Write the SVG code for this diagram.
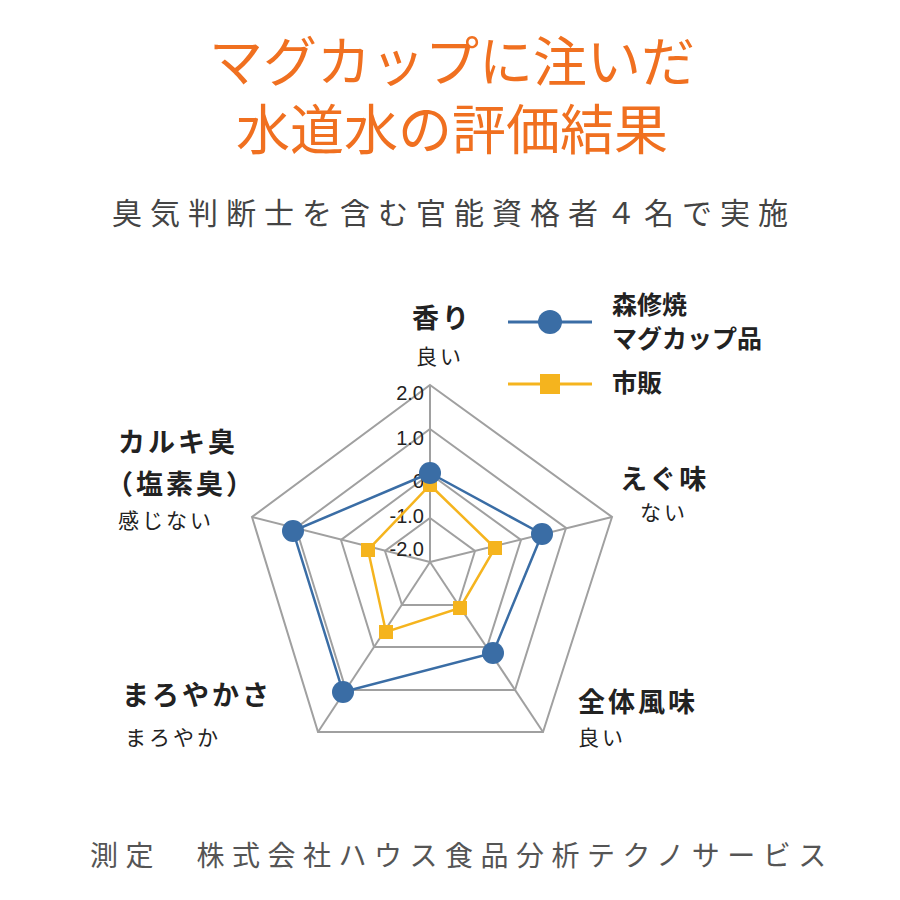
<svg xmlns="http://www.w3.org/2000/svg" width="900" height="900" viewBox="0 0 900 900">
<style>
.t{font-family:"Noto Sans CJK JP","Noto Sans",sans-serif}
.ring{fill:none;stroke:#a0a0a0;stroke-width:2}
.lab{font-family:"Noto Sans CJK JP",sans-serif;font-weight:bold;font-size:27px;letter-spacing:3px;fill:#222}
.leg{font-family:"Noto Sans CJK JP",sans-serif;font-weight:bold;font-size:25px;fill:#222}
.sub{font-family:"Noto Sans CJK JP",sans-serif;font-size:21px;letter-spacing:3px;fill:#222}
.num{font-family:"Liberation Sans",sans-serif;font-size:20px;fill:#222;text-anchor:end}
</style>
<rect width="900" height="900" fill="#fff"/>
<text class="t" x="452" y="82" font-size="54" fill="#f07020" text-anchor="middle">マグカップに注いだ</text>
<text class="t" x="452" y="150" font-size="54" fill="#f07020" text-anchor="middle">水道水の評価結果</text>
<text class="t" x="112" y="224" font-size="30" letter-spacing="8" fill="#444">臭気判断士を含む官能資格者４名で実施</text>
<g id="grid">
<polygon class="ring" points="430,385 612,517 543,732 318,732 252,517"/>
<polygon class="ring" points="430,429 566,528 515,690 346,690 296,528"/>
<polygon class="ring" points="430,474 521,540 487,647 374,647 341,540"/>
<polygon class="ring" points="430,518 475,551 458,605 402,605 385,551"/>
<g stroke="#a0a0a0" stroke-width="2"><line x1="430" y1="562" x2="430" y2="385"/><line x1="430" y1="562" x2="612" y2="517"/><line x1="430" y1="562" x2="543" y2="732"/><line x1="430" y1="562" x2="318" y2="732"/><line x1="430" y1="562" x2="252" y2="517"/></g>
</g>
<g id="scale">
<text class="num" x="424" y="400">2.0</text><text class="num" x="424" y="445">1.0</text><text class="num" x="424" y="488">0</text><text class="num" x="424" y="523">-1.0</text><text class="num" x="424" y="556">-2.0</text>
</g>
<g id="connectors">
<polygon points="430,485 495,548 460,608 386,632 368,550" fill="none" stroke="#f5b41e" stroke-width="2.5"/>
<polygon points="430,473 542,534 493,653 343,692 293,531" fill="none" stroke="#3a6da5" stroke-width="2.5"/>
<line x1="508" y1="322" x2="592" y2="322" stroke="#3a6da5" stroke-width="3"/>
<line x1="508" y1="384" x2="592" y2="384" stroke="#f5b41e" stroke-width="3"/>
</g>
<g id="series-shi" fill="#f5b41e">
<rect x="423" y="478" width="14" height="14"/><rect x="488" y="541" width="14" height="14"/><rect x="453" y="601" width="14" height="14"/><rect x="379" y="625" width="14" height="14"/><rect x="361" y="543" width="14" height="14"/>
<rect x="540" y="374" width="20" height="20"/>
</g>
<g id="series-mori" fill="#3a6da5">
<circle cx="430" cy="473" r="11"/><circle cx="542" cy="534" r="11"/><circle cx="493" cy="653" r="11"/><circle cx="343" cy="692" r="11"/><circle cx="293" cy="531" r="11"/>
<circle cx="550" cy="322" r="12"/>
</g>
<g id="legend">
<text class="leg" x="612" y="314">森修焼</text><text class="leg" x="612" y="348">マグカップ品</text><text class="leg" x="612" y="392">市販</text>
</g>
<g id="axis-labels">
<text class="lab" x="412" y="328">香り</text><text class="sub" x="416" y="364">良い</text>
<text class="lab" x="620" y="489">えぐ味</text><text class="sub" x="640" y="520">ない</text>
<text class="lab" x="118" y="452">カルキ臭</text><text class="lab" x="106" y="494">（塩素臭）</text><text class="sub" x="118" y="528">感じない</text>
<text class="lab" x="122" y="705">まろやかさ</text><text class="sub" x="125" y="745">まろやか</text>
<text class="lab" x="578" y="712">全体風味</text><text class="sub" x="578" y="745">良い</text>
</g>
<text class="t" x="90" y="866" font-size="28" letter-spacing="7.5" fill="#555">測定　株式会社ハウス食品分析テクノサービス</text>
</svg>
